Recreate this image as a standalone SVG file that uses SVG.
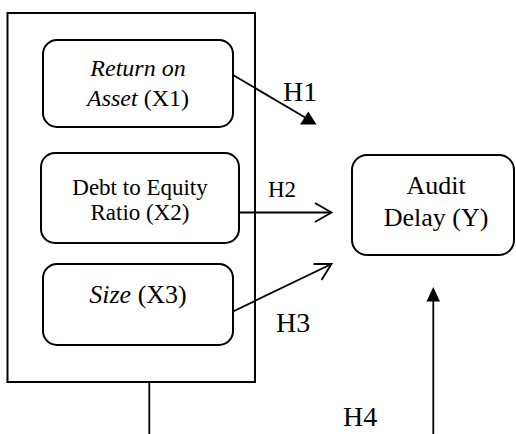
<svg xmlns="http://www.w3.org/2000/svg" width="516" height="434" viewBox="0 0 516 434">
<style>
.box{fill:#fff;stroke:#000;stroke-width:2}
.ln{fill:none;stroke:#000;stroke-width:1.8}
.hd{fill:#000;stroke:none}
.c{text-anchor:middle}
.i{font-style:italic}
</style>
<rect width="516" height="434" fill="#fff"/>
<g font-family="'Liberation Serif', 'Times New Roman', 'DejaVu Serif', serif" fill="#000">
<g id="group-box"><rect class="box" x="7.5" y="13" width="247.5" height="369"/></g>
<g id="x1"><rect class="box" x="43" y="40" width="190" height="87" rx="14"/>
<text class="c i" x="138" y="76" font-size="24">Return on</text>
<text class="c" x="138" y="106" font-size="24"><tspan class="i">Asset</tspan> (X1)</text></g>
<g id="x2"><rect class="box" x="41" y="153" width="198" height="90" rx="14"/>
<text class="c" x="140" y="195" font-size="23">Debt to Equity</text>
<text class="c" x="140" y="220" font-size="23">Ratio (X2)</text></g>
<g id="x3"><rect class="box" x="43" y="264" width="190" height="81" rx="14"/>
<text class="c" x="138" y="303" font-size="26"><tspan class="i">Size</tspan> (X3)</text></g>
<g id="y"><rect class="box" x="352" y="155" width="162" height="100" rx="15"/>
<text class="c" x="436" y="194" font-size="26">Audit</text>
<text class="c" x="436" y="226" font-size="26">Delay (Y)</text></g>
<g id="connectors">
<line class="ln" x1="233" y1="75" x2="306" y2="118"/>
<polygon class="hd" points="300,124.5 316.5,124.5 308.3,111.5"/>
<line class="ln" x1="239" y1="212.5" x2="331" y2="212.5"/>
<polyline class="ln" points="315,203 331.5,212.5 315,222"/>
<line class="ln" x1="233" y1="311.5" x2="331" y2="264.2"/>
<polyline class="ln" points="313.5,264 331.5,264 321.5,280"/>
<line class="ln" x1="433.3" y1="434" x2="433.3" y2="300"/>
<polygon class="hd" points="426.5,301.5 440,301.5 433.3,287"/>
<line class="ln" x1="149.3" y1="382" x2="149.3" y2="434"/>
</g>
<g id="labels">
<text x="283" y="101" font-size="28">H1</text>
<text x="268" y="197" font-size="23">H2</text>
<text x="276" y="332" font-size="28">H3</text>
<text x="343" y="426" font-size="28">H4</text>
</g>
</g>
</svg>
